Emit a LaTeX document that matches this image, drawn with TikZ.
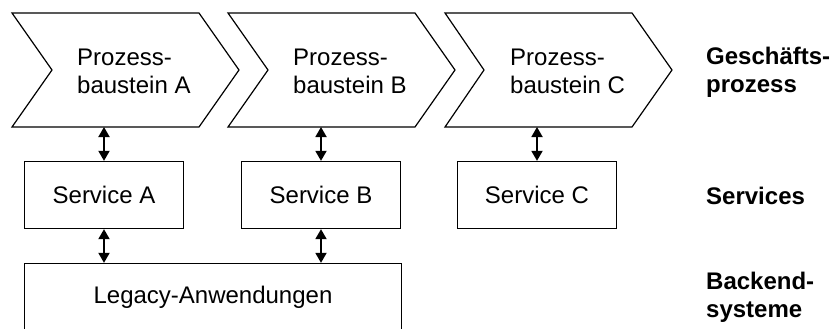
\documentclass[tikz,border=0pt]{standalone}
\usepackage{fontspec}
\setmainfont{Liberation Sans}
\usetikzlibrary{arrows.meta}
\begin{document}
\begin{tikzpicture}[x=1pt,y=-1pt,line join=miter,
  chev/.style={draw,line width=1.2pt},
  box/.style={draw,line width=1.3pt,minimum width=159pt,minimum height=67pt,inner sep=0pt,
    font=\fontsize{24}{28}\selectfont},
  txt/.style={align=left,anchor=west,inner sep=0pt,font=\fontsize{24}{28}\selectfont},
  lbl/.style={align=left,anchor=west,inner sep=0pt,font=\fontsize{24}{28}\selectfont\bfseries},
  dbl/.style={{Triangle[width=11pt,length=10pt]}-{Triangle[width=11pt,length=10pt]},line width=1.8pt}]
\clip (0,0) rectangle (833,329);
% chevrons
\draw[chev] (12,13) -- (199,13) -- (239,70) -- (199,127) -- (12,127) -- (52,70) -- cycle;
\draw[chev] (228,13) -- (415,13) -- (455,70) -- (415,127) -- (228,127) -- (268,70) -- cycle;
\draw[chev] (445,13) -- (632,13) -- (672,70) -- (632,127) -- (445,127) -- (484,70) -- cycle;
\node[txt] (tA) at (77,71.4) {Prozess-\\baustein A};
\node[txt] (tB) at (293,71.4) {Prozess-\\baustein B};
\node[txt] (tC) at (510,71.4) {Prozess-\\baustein C};
\coordinate (cA) at (104,127);
\coordinate (cB) at (321,127);
\coordinate (cC) at (537,127);
% services
\node[box] (sA) at (104,195) {Service A};
\node[box] (sB) at (321,195) {Service B};
\node[box] (sC) at (537,195) {Service C};
% legacy
\node[box,minimum width=377pt] (lg) at (213,297) {Legacy-Anwendungen};
% arrows
\draw[dbl] (cA) -- (sA.north);
\draw[dbl] (cB) -- (sB.north);
\draw[dbl] (cC) -- (sC.north);
\draw[dbl] (sA.south) -- (sA.south |- lg.north);
\draw[dbl] (sB.south) -- (sB.south |- lg.north);
% layer labels
\node[lbl] (l1) at (706,72.7) {Geschäfts-\\prozess};
\node[lbl] (l2) at (706,196) {Services};
\node[lbl] (l3) at (706,297.7) {Backend-\\systeme};
\end{tikzpicture}
\end{document}
